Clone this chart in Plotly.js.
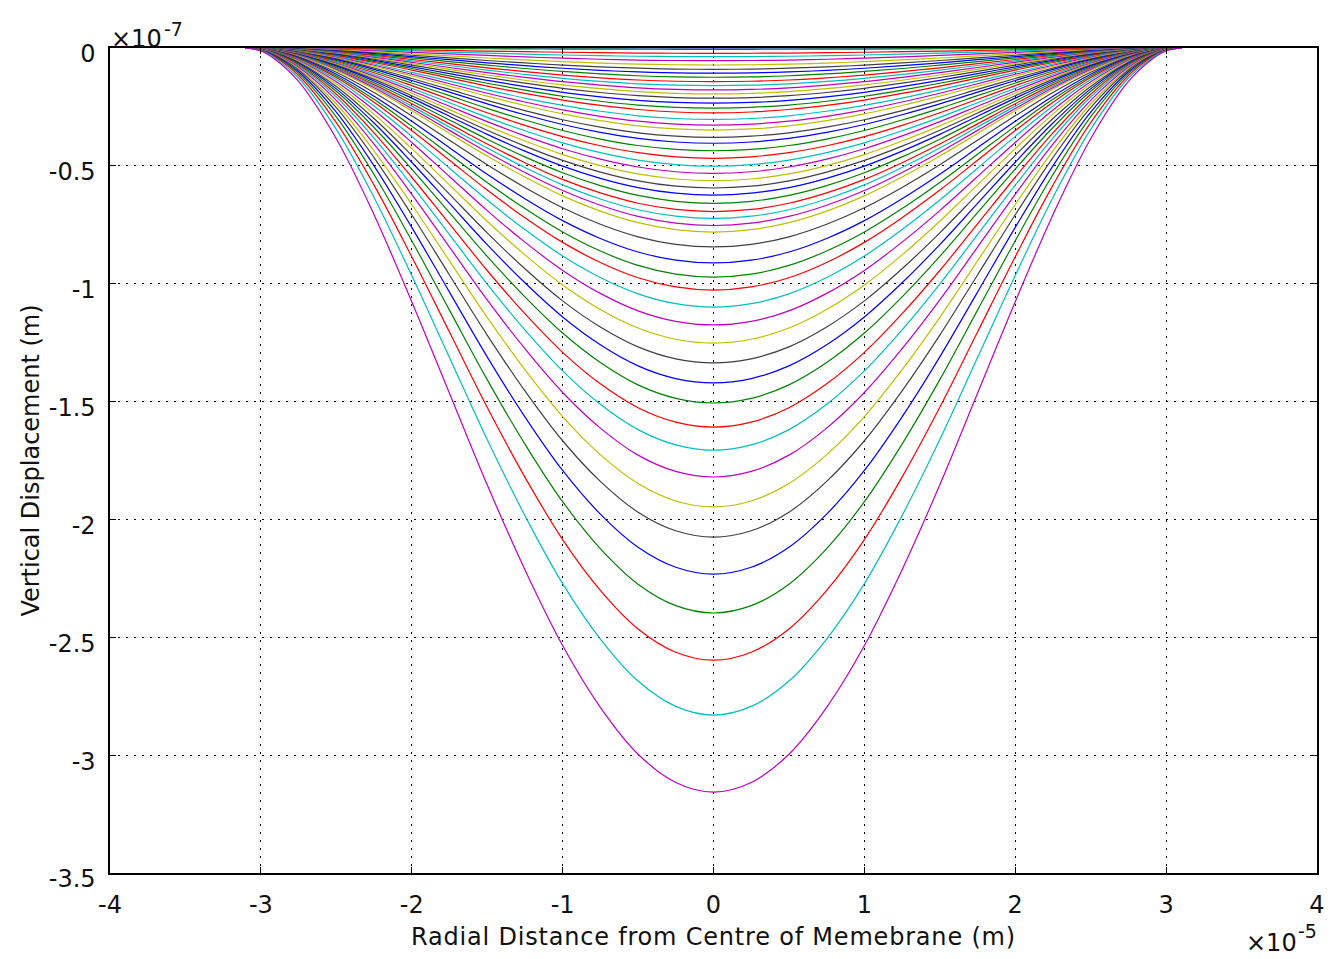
<!DOCTYPE html>
<html>
<head>
<meta charset="utf-8">
<script src="https://cdn.plot.ly/plotly-3.0.1.min.js"></script>
<style>
html,body{margin:0;padding:0;background:#fff;}
#chart{width:1343px;height:959px;}
.xtitle{letter-spacing:0.8px;}
</style>
</head>
<body>
<div id="chart"></div>
<script>
// Radial positions (x 1e-5 m), right half; mirrored for the left half
const radialPos = [0, 0.25, 0.5, 0.75, 1.0, 1.25, 1.5, 1.75, 2.0, 2.25, 2.5, 2.75, 2.9, 3.0, 3.1];
// Normalised membrane profile (fraction of centre deflection)
const profileShape = [1, 0.987, 0.949, 0.886, 0.803, 0.701, 0.587, 0.464, 0.341, 0.224, 0.122, 0.045, 0.016, 0.004, 0];
// Centre deflection of each curve (x 1e-7 m), shallow to deep
const centerDepth = [0, 0.0055, 0.0225, 0.0369, 0.0538, 0.0721, 0.0904, 0.107, 0.124, 0.143,
  0.160, 0.178, 0.195, 0.213, 0.234, 0.255, 0.275, 0.303, 0.327, 0.348,
  0.379, 0.404, 0.436, 0.468, 0.501, 0.532, 0.563, 0.594, 0.624, 0.659,
  0.694, 0.723, 0.753, 0.781, 0.844, 0.912, 0.972, 1.027, 1.099, 1.175,
  1.252, 1.336, 1.421, 1.506, 1.608, 1.706, 1.820, 1.947, 2.075, 2.232,
  2.397, 2.597, 2.830, 3.157];
const colorOrder = ['#0000ff', '#008000', '#ff0000', '#00bfbf', '#bf00bf', '#bfbf00', '#404040'];
const xTicks = [-4, -3, -2, -1, 0, 1, 2, 3, 4];
const yTicks = [0, -0.5, -1, -1.5, -2, -2.5, -3, -3.5];

const xs = [], idx = [];
for (let i = radialPos.length - 1; i > 0; i--) { xs.push(-radialPos[i]); idx.push(i); }
for (let i = 0; i < radialPos.length; i++) { xs.push(radialPos[i]); idx.push(i); }

const traces = centerDepth.map((d, k) => ({
  type: 'scatter', mode: 'lines',
  x: xs,
  y: idx.map(i => -d * profileShape[i]),
  line: {color: colorOrder[k % colorOrder.length], width: 1.2, shape: 'spline', smoothing: 1},
  hoverinfo: 'skip', showlegend: false
}));

const FAM = 'DejaVu Sans, Verdana, sans-serif';
const tickFont = {family: FAM, size: 24, color: '#111'};
const titleFont = {family: FAM, size: 24, color: '#111'};
const axisCommon = {
  showline: true, linecolor: '#000', linewidth: 1.6, mirror: 'ticks',
  ticks: 'inside', ticklen: 6, tickcolor: '#000', tickwidth: 1,
  showgrid: true, gridcolor: '#000', gridwidth: 1, griddash: '1.5px,6.5px',
  zeroline: false, tickfont: tickFont
};
const layout = {
  width: 1343, height: 959,
  margin: {l: 110, r: 26, t: 48, b: 86},
  paper_bgcolor: '#fff', plot_bgcolor: '#fff',
  xaxis: Object.assign({}, axisCommon, {
    range: [-4, 4], tickvals: xTicks, ticktext: xTicks.map(String),
    ticklabelstandoff: 10,
    title: {text: 'Radial Distance from Centre of Memebrane (m)', font: titleFont, standoff: 10}
  }),
  yaxis: Object.assign({}, axisCommon, {
    range: [-3.5, 0], tickvals: yTicks, ticktext: yTicks.map(String),
    ticklabelstandoff: 8, ticklabelshift: 6,
    title: {text: 'Vertical Displacement (m)', font: titleFont, standoff: 2}
  }),
  annotations: [
    {xref: 'paper', yref: 'paper', x: 0, y: 1, xanchor: 'left', yanchor: 'bottom', yshift: -7, xshift: -1,
     text: '×10', showarrow: false, font: tickFont},
    {xref: 'paper', yref: 'paper', x: 0, y: 1, xanchor: 'left', yanchor: 'bottom', yshift: 6, xshift: 52,
     text: '-7', showarrow: false, font: {family: FAM, size: 19, color: '#111'}},
    {xref: 'paper', yref: 'paper', x: 1, y: 0, xanchor: 'right', yanchor: 'top', yshift: -54, xshift: -18,
     text: '×10', showarrow: false, font: tickFont},
    {xref: 'paper', yref: 'paper', x: 1, y: 0, xanchor: 'right', yanchor: 'top', yshift: -45, xshift: 2,
     text: '-5', showarrow: false, font: {family: FAM, size: 19, color: '#111'}}
  ]
};
Plotly.newPlot('chart', traces, layout, {staticPlot: true});
</script>
</body>
</html>
